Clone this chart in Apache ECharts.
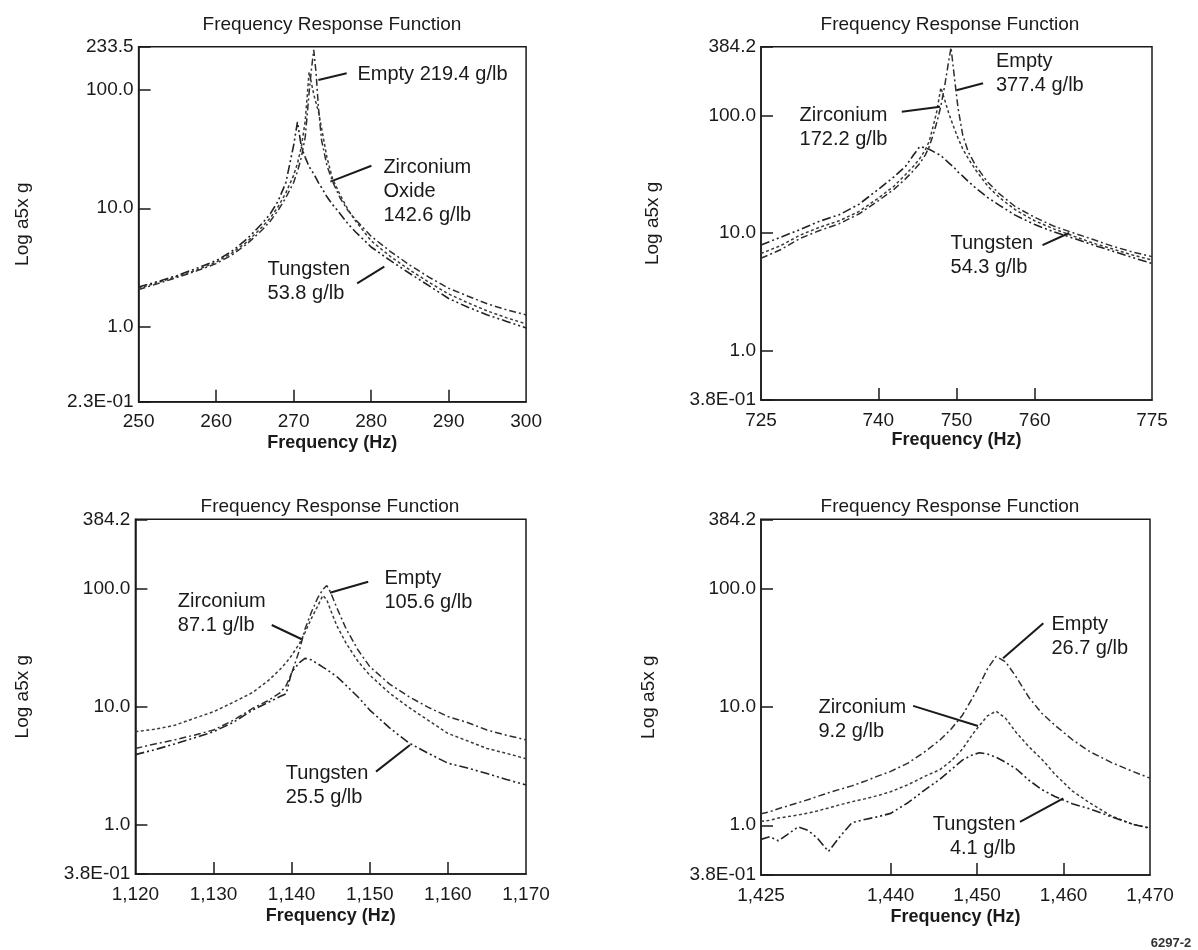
<!DOCTYPE html>
<html>
<head>
<meta charset="utf-8">
<script src="https://cdn.jsdelivr.net/npm/echarts@6/dist/echarts.min.js"></script>
<style>
html, body { margin: 0; padding: 0; background: #ffffff; }
#chart { width: 1198px; height: 950px; }
</style>
</head>
<body>
<div id="chart"></div>
<script>
// ---------------- DATA ----------------
// Panel 1 (250–300 Hz)
const p1Freq  = [250, 252.5, 255, 257.5, 260, 262, 264, 266, 267, 268, 269, 270, 270.5, 271, 271.5, 272, 272.3, 272.6, 272.9, 273.2, 273.6, 274.3, 275, 276, 277, 278, 280, 282.5, 285, 287.5, 290, 292.5, 295, 297.5, 300];
const p1Empty = [2.05, 2.3, 2.6, 2.95, 3.4, 4.0, 5.0, 6.6, 7.8, 9.6, 12.3, 16.5, 20.5, 27, 40, 95, 150, 219.4, 140, 72, 38, 23, 17, 12.2, 9.6, 8.0, 5.8, 4.3, 3.3, 2.6, 2.1, 1.8, 1.55, 1.38, 1.25];
const p1Zr    = [2.1, 2.35, 2.65, 3.0, 3.5, 4.15, 5.2, 7.0, 8.3, 10.3, 13.5, 19, 24, 33, 55, 142.6, 115, 92, 78, 66, 48, 27, 18, 13, 9.8, 7.8, 5.3, 3.9, 3.0, 2.35, 1.88, 1.58, 1.35, 1.18, 1.05];
const p1Tu    = [2.15, 2.4, 2.7, 3.1, 3.6, 4.3, 5.5, 7.5, 9.0, 11.5, 16.5, 34, 53.8, 33, 27, 22.5, 21, 19.5, 18, 16.5, 15, 12.5, 10.8, 9.0, 7.4, 6.3, 4.7, 3.6, 2.8, 2.2, 1.72, 1.45, 1.25, 1.1, 0.97];

// Panel 2 (725–775 Hz)
const p2Freq  = [725, 727.5, 730, 732.5, 735, 737.5, 740, 742, 743.5, 744.5, 745.3, 746, 746.5, 747, 747.5, 748, 748.5, 749, 749.3, 749.7, 750.2, 750.8, 751.5, 752.5, 754, 755.5, 757.5, 760, 762.5, 765, 767.5, 770, 772.5, 775];
const p2Empty = [6.1, 7.2, 9.0, 10.5, 12.0, 14.5, 18.8, 23.5, 29, 34, 39, 46, 54, 68, 88, 120, 180, 290, 377.4, 220, 115, 68, 49, 37, 27, 21.5, 16.8, 13.6, 11.4, 10.0, 8.8, 7.7, 6.9, 6.3];
const p2Zr    = [6.7, 7.8, 9.6, 11.2, 12.7, 15.2, 19.8, 25, 31.5, 37, 43, 51, 60, 80, 110, 172.2, 135, 105, 92, 78, 64, 52, 43, 34, 25, 20, 15.8, 12.7, 10.8, 9.4, 8.2, 7.3, 6.5, 5.9];
const p2Tu    = [7.9, 9.2, 10.7, 12.6, 14.3, 17.5, 23.5, 30, 37, 46, 54.3, 53, 51.5, 49.5, 47.5, 45.5, 42.5, 39.5, 38, 36, 33, 30.5, 27.5, 24, 20, 17.2, 14.2, 11.8, 10.2, 9.0, 7.9, 7.0, 6.2, 5.5];

// Panel 3 (1,120–1,170 Hz)
const p3Freq  = [1120, 1122.5, 1125, 1127.5, 1130, 1132.5, 1135, 1137, 1138.5, 1139.3, 1140, 1141, 1141.7, 1142.5, 1143.3, 1144, 1144.5, 1145, 1145.8, 1147, 1148.5, 1150, 1152.5, 1155, 1157.5, 1160, 1162.5, 1165, 1167.5, 1170];
const p3Empty = [4.4, 4.8, 5.2, 5.7, 6.3, 7.6, 9.6, 11.2, 13, 15, 19, 30, 45, 62, 82, 98, 105.6, 92, 68, 45, 30, 21.7, 15.5, 12.1, 9.8, 8.2, 7.3, 6.3, 5.7, 5.2];
const p3Zr    = [6.1, 6.4, 6.9, 7.9, 9.0, 10.8, 13.1, 16.5, 20.5, 23.5, 27, 34, 42, 55, 70, 87.1, 80, 65, 48, 34, 24, 18.4, 13, 9.8, 7.6, 5.9, 5.1, 4.4, 4.0, 3.6];
const p3Tu    = [3.9, 4.3, 4.8, 5.4, 6.1, 7.3, 9.3, 10.8, 12.1, 12.8, 19.5, 23.5, 25.5, 24.8, 23, 21.5, 20.5, 19.4, 17.8, 15, 12, 9.3, 6.6, 4.9, 4.0, 3.3, 3.0, 2.7, 2.4, 2.16];

// Panel 4 (1,425–1,470 Hz)
const p4Freq  = [1425, 1426, 1427, 1428, 1429.3, 1430.5, 1431.5, 1432.8, 1434, 1435.5, 1437, 1438.5, 1440, 1442, 1444, 1445.7, 1447, 1448.3, 1449.5, 1450.3, 1451.2, 1452.2, 1453.3, 1454.5, 1456, 1457.5, 1459, 1461, 1463, 1465.5, 1468, 1470];
const p4Empty = [1.25, 1.3, 1.38, 1.45, 1.55, 1.65, 1.75, 1.88, 2.0, 2.15, 2.35, 2.6, 2.85, 3.35, 4.2, 5.25, 6.5, 8.5, 12, 15.5, 21, 26.7, 24, 18, 12, 8.8, 7.0, 5.3, 4.2, 3.4, 2.85, 2.5];
const p4Zr    = [1.08, 1.1, 1.15, 1.18, 1.22, 1.27, 1.32, 1.4, 1.48, 1.58, 1.67, 1.78, 1.92, 2.2, 2.6, 2.95, 3.5, 4.4, 5.9, 7.0, 8.4, 9.2, 8.0, 6.1, 4.6, 3.6, 2.7, 1.95, 1.55, 1.2, 1.02, 0.95];
const p4Tu    = [0.76, 0.8, 0.74, 0.83, 0.97, 0.9, 0.78, 0.6, 0.78, 1.05, 1.12, 1.18, 1.26, 1.55, 2.0, 2.45, 2.95, 3.55, 3.95, 4.1, 4.0, 3.75, 3.4, 3.0, 2.4, 2.0, 1.75, 1.52, 1.38, 1.18, 1.02, 0.94];

// Axis ranges and tick labels
const p1XRange = [250, 300];   const p1XLabels = [250, 260, 270, 280, 290, 300];
const p2XRange = [725, 775];   const p2XLabels = [725, 740, 750, 760, 775];
const p3XRange = [1120, 1170]; const p3XLabels = [1120, 1130, 1140, 1150, 1160, 1170];
const p4XRange = [1425, 1470]; const p4XLabels = [1425, 1440, 1450, 1460, 1470];
const p1YRange = [0.23, 233.5];
const p2YRange = [0.38, 384.2];
const p3YRange = [0.38, 384.2];
const p4YRange = [0.38, 384.2];

// Annotation texts
const p1Notes = ['Empty 219.4 g/lb', 'Zirconium\nOxide\n142.6 g/lb', 'Tungsten\n53.8 g/lb'];
const p2Notes = ['Empty\n377.4 g/lb', 'Zirconium\n172.2 g/lb', 'Tungsten\n54.3 g/lb'];
const p3Notes = ['Empty\n105.6 g/lb', 'Zirconium\n87.1 g/lb', 'Tungsten\n25.5 g/lb'];
const p4Notes = ['Empty\n26.7 g/lb', 'Zirconium\n9.2 g/lb', 'Tungsten\n4.1 g/lb'];

// ---------------- LAYOUT / ANNOTATION PLACEMENT (data coordinates) ----------------
const p1NoteAt = [[278.3, 134, 'left'], [281.65, 13.7, 'left'], [266.7, 2.39, 'left']];
const p1Lead   = [[273.2, 122, 276.85, 139], [274.75, 16.8, 280.04, 22.9], [278.2, 2.31, 281.7, 3.2]];
const p2NoteAt = [[755.1, 224, 'left'], [730.0, 77.8, 'left'], [749.3, 6.4, 'left']];
const p2Lead   = [[750.0, 164, 753.4, 188], [743.0, 107.6, 747.9, 118.6], [761.0, 7.9, 764.4, 10.0]];
const p3NoteAt = [[1151.95, 95.3, 'left'], [1125.5, 60.4, 'left'], [1139.3, 2.12, 'left']];
const p3Lead   = [[1144.9, 91.8, 1149.8, 113.7], [1137.45, 48.9, 1141.3, 37], [1150.8, 2.8, 1155.15, 4.7]];
const p4NoteAt = [[1458.65, 39.2, 'left'], [1431.7, 7.8, 'left'], [1454.5, 0.80, 'right']];
const p4Lead   = [[1453.0, 25.7, 1457.66, 50.8], [1442.6, 10.2, 1450.1, 6.9], [1454.96, 1.07, 1459.97, 1.69]];

const FONT = '"Liberation Sans", Arial, Helvetica, sans-serif';
const INK = '#1a1a1a';

const panels = [
  { grid: { left: 138.6, top: 46.7, width: 387.5, height: 355 }, titleX: 327, titleY: 10,
    xr: p1XRange, yr: p1YRange, xl: p1XLabels, freq: p1Freq, e: p1Empty, z: p1Zr, t: p1Tu,
    notes: p1Notes, noteAt: p1NoteAt, lead: p1Lead, xGap: 32, yGap: 106 },
  { grid: { left: 761, top: 46.7, width: 391, height: 353.3 }, titleX: 945, titleY: 10,
    xr: p2XRange, yr: p2YRange, xl: p2XLabels, freq: p2Freq, e: p2Empty, z: p2Zr, t: p2Tu,
    notes: p2Notes, noteAt: p2NoteAt, lead: p2Lead, xGap: 30, yGap: 99 },
  { grid: { left: 135.4, top: 519.3, width: 390.6, height: 354.7 }, titleX: 325, titleY: 492,
    xr: p3XRange, yr: p3YRange, xl: p3XLabels, freq: p3Freq, e: p3Empty, z: p3Zr, t: p3Tu,
    notes: p3Notes, noteAt: p3NoteAt, lead: p3Lead, xGap: 33, yGap: 103 },
  { grid: { left: 761, top: 519.3, width: 389, height: 355.7 }, titleX: 945, titleY: 492,
    xr: p4XRange, yr: p4YRange, xl: p4XLabels, freq: p4Freq, e: p4Empty, z: p4Zr, t: p4Tu,
    notes: p4Notes, noteAt: p4NoteAt, lead: p4Lead, xGap: 33, yGap: 103 }
];

const fmtComma = v => {
  const s = String(Math.round(v));
  return s.length > 3 ? s.slice(0, -3) + ',' + s.slice(-3) : s;
};
const fmtY = v => {
  if (v < 1) {
    const e = Math.floor(Math.log10(v) + 1e-9);
    const m = v / Math.pow(10, e);
    return m.toFixed(1) + 'E-' + String(-e).padStart(2, '0');
  }
  return v.toFixed(1);
};

const curveStyles = {
  e: { color: '#2e2e2e', width: 1.5, type: [7, 3, 2, 3] },
  z: { color: '#3a3a3a', width: 1.5, type: [3, 2.5] },
  t: { color: '#222222', width: 1.6, type: [9, 3, 2, 3, 2, 3] }
};
const curveNames = { e: 'Empty', z: 'Zirconium', t: 'Tungsten' };

const grids = [], xAxes = [], yAxes = [], series = [], titles = [];

panels.forEach((p, i) => {
  grids.push(Object.assign({ show: true, borderColor: INK, borderWidth: 1.5, backgroundColor: 'transparent', containLabel: false }, p.grid));
  titles.push({
    text: 'Frequency Response Function', left: p.titleX, top: p.titleY, textAlign: 'center',
    textStyle: { fontFamily: FONT, fontSize: 19, fontWeight: 'normal', color: INK }
  });
  xAxes.push({
    type: 'value', gridIndex: i, min: p.xr[0], max: p.xr[1],
    axisLine: { show: true, lineStyle: { color: INK, width: 1.5 } },
    axisTick: { show: true, inside: true, length: 12, lineStyle: { color: INK, width: 1.5 },
                customValues: p.xl.slice(1, -1) },
    axisLabel: { show: true, customValues: p.xl, color: INK, fontFamily: FONT, fontSize: 19, margin: 11,
                 formatter: v => fmtComma(v) },
    splitLine: { show: false },
    name: 'Frequency (Hz)', nameLocation: 'middle', nameGap: p.xGap,
    nameTextStyle: { fontFamily: FONT, fontSize: 18, fontWeight: 'bold', color: INK }
  });
  yAxes.push({
    type: 'log', logBase: 10, gridIndex: i, min: p.yr[0], max: p.yr[1],
    axisLine: { show: true, lineStyle: { color: INK, width: 1.5 } },
    axisTick: { show: true, inside: true, length: 12, lineStyle: { color: INK, width: 1.5 } },
    axisLabel: { show: true, color: INK, fontFamily: FONT, fontSize: 19, margin: 5,
                 showMinLabel: true, showMaxLabel: true, formatter: v => fmtY(v) },
    splitLine: { show: false },
    minorTick: { show: false },
    name: 'Log a5x g', nameLocation: 'middle', nameGap: p.yGap,
    nameTextStyle: { fontFamily: FONT, fontSize: 19, color: INK }
  });
  ['e', 'z', 't'].forEach(k => {
    series.push({
      type: 'line', name: curveNames[k], xAxisIndex: i, yAxisIndex: i,
      data: p.freq.map((f, j) => [f, p[k][j]]),
      showSymbol: false, symbol: 'none', smooth: false, silent: true,
      lineStyle: curveStyles[k], animation: false, z: 3
    });
  });
  p.lead.forEach(L => {
    series.push({
      type: 'line', xAxisIndex: i, yAxisIndex: i,
      data: [[L[0], L[1]], [L[2], L[3]]],
      showSymbol: false, symbol: 'none', silent: true,
      lineStyle: { color: INK, width: 2, type: 'solid' }, animation: false, z: 4
    });
  });
  series.push({
    type: 'scatter', xAxisIndex: i, yAxisIndex: i, symbolSize: 1, silent: true, animation: false,
    itemStyle: { color: 'rgba(255,255,255,0)' }, z: 5,
    data: p.noteAt.map((a, j) => ({
      value: [a[0], a[1]],
      label: { show: true, position: [0, 0], formatter: p.notes[j], align: a[2], verticalAlign: 'middle',
               color: INK, opacity: 1, textBorderWidth: 0, fontFamily: FONT, fontSize: 20, lineHeight: 24 }
    }))
  });
});

titles.push({
  text: '6297-2', left: 1166, top: 932, textAlign: 'center',
  textStyle: { fontFamily: FONT, fontSize: 13, fontWeight: 'bold', color: '#333' }
});

const chart = echarts.init(document.getElementById('chart'), null, { renderer: 'canvas' });
chart.setOption({
  backgroundColor: '#ffffff',
  animation: false,
  title: titles,
  grid: grids,
  xAxis: xAxes,
  yAxis: yAxes,
  series: series
});
</script>
</body>
</html>
